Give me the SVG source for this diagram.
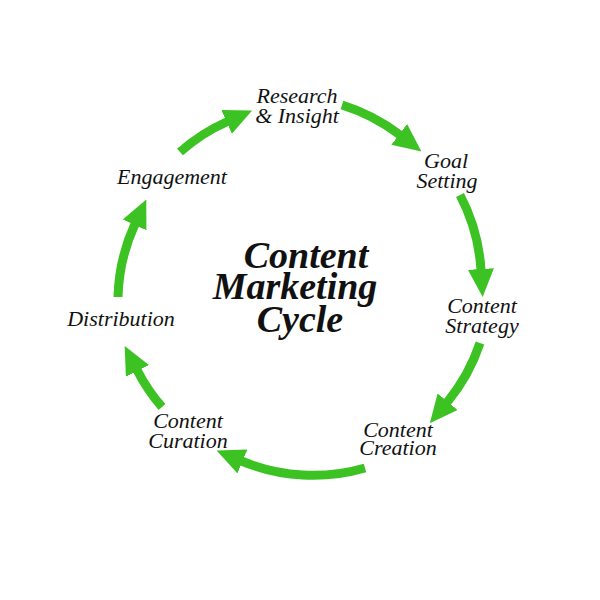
<svg xmlns="http://www.w3.org/2000/svg" width="600" height="600" viewBox="0 0 600 600">
<style>
.lbl{font-family:"Liberation Serif","Times New Roman",serif;font-style:italic;font-size:22px;fill:#111;text-anchor:middle}
.title{font-family:"Liberation Serif","Times New Roman",serif;font-style:italic;font-weight:bold;font-size:38px;fill:#111;text-anchor:middle}
.arr{fill:none;stroke:#3cc323;stroke-width:9;stroke-linecap:butt;marker-end:url(#head)}
</style>
<defs>
<marker id="head" viewBox="0 0 28 26" refX="1" refY="13" markerWidth="28" markerHeight="26" markerUnits="userSpaceOnUse" orient="auto">
<path d="M0,0 L28,13 L0,26 Z" fill="#3cc323"/>
</marker>
</defs>
<rect width="600" height="600" fill="#fff"/>
<g id="connectors">
<path class="arr" d="M180,152 A186,186 0 0 1 227.5,121.5"/>
<path class="arr" d="M342,105 A186,186 0 0 1 400,135"/>
<path class="arr" d="M460,195 A186,186 0 0 1 481,270"/>
<path class="arr" d="M480,343 A186,186 0 0 1 447,402.5"/>
<path class="arr" d="M365,468 A186,186 0 0 1 241.5,461"/>
<path class="arr" d="M162,407 A186,186 0 0 1 137,370"/>
<path class="arr" d="M118,297 A186,186 0 0 1 135,224"/>
</g>
<g id="title">
<text class="title"><tspan x="306" y="268">Content</tspan><tspan x="295" y="299">Marketing</tspan><tspan x="300" y="332">Cycle</tspan></text>
</g>
<g id="research"><text class="lbl"><tspan x="297" y="103">Research</tspan><tspan x="297" y="123">&amp; Insight</tspan></text></g>
<g id="goal"><text class="lbl"><tspan x="446" y="168">Goal</tspan><tspan x="447" y="188">Setting</tspan></text></g>
<g id="strategy"><text class="lbl"><tspan x="482" y="313">Content</tspan><tspan x="482" y="333">Strategy</tspan></text></g>
<g id="creation"><text class="lbl"><tspan x="398" y="437">Content</tspan><tspan x="398" y="455">Creation</tspan></text></g>
<g id="curation"><text class="lbl"><tspan x="188" y="428">Content</tspan><tspan x="188" y="448">Curation</tspan></text></g>
<g id="distribution"><text class="lbl" x="121" y="326">Distribution</text></g>
<g id="engagement"><text class="lbl" x="172" y="184">Engagement</text></g>
</svg>
